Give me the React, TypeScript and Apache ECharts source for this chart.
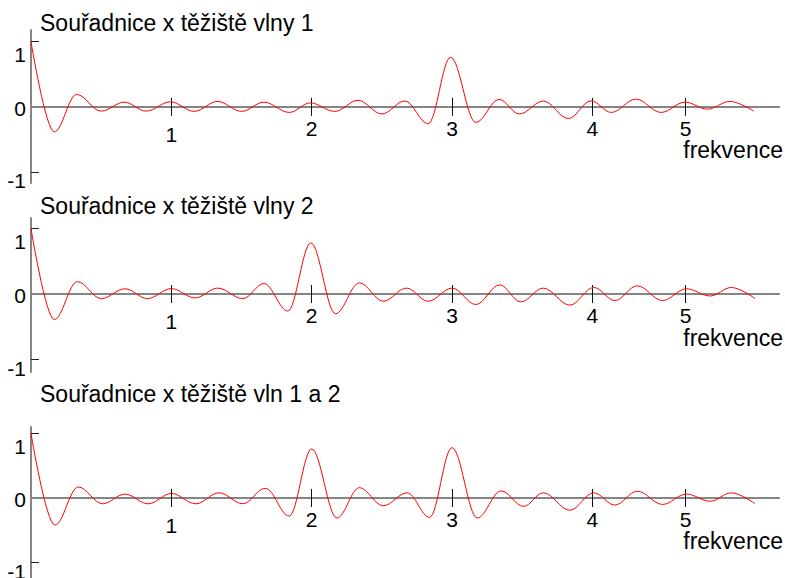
import React, { useEffect, useRef } from 'react';
import * as echarts from 'echarts';

// ---- data ----
const titles = [
  'Souřadnice x těžiště vlny 1',
  'Souřadnice x těžiště vlny 2',
  'Souřadnice x těžiště vln 1 a 2',
];
const xAxisName = 'frekvence';
const xTickValues = [1, 2, 3, 4, 4.665];
const xTickLabels = ['1', '2', '3', '4', '5'];
const yTickValues = [-1, 0, 1];
const yTickLabels = ['-1', '0', '1'];

// local extrema of each curve: [frequency, x-coordinate of centroid]
const wave1: [number, number][] = [
  [0, 1.0], [0.166, -0.385], [0.325, 0.19], [0.5, -0.066], [0.665, 0.072],
  [0.82, -0.066], [0.995, 0.077], [1.163, -0.07], [1.33, 0.083], [1.5, -0.07],
  [1.66, 0.072], [1.84, -0.086], [1.99, 0.06], [2.165, -0.07], [2.33, 0.1],
  [2.5, -0.11], [2.664, 0.09], [2.83, -0.26], [2.99, 0.76], [3.17, -0.24],
  [3.335, 0.114], [3.48, -0.11], [3.65, 0.088], [3.83, -0.18], [3.99, 0.092],
  [4.135, -0.086], [4.31, 0.118], [4.49, -0.086], [4.66, 0.072], [4.82, -0.035],
  [4.98, 0.083], [5.15, -0.066],
];
const wave2: [number, number][] = [
  [0, 1.0], [0.166, -0.39], [0.33, 0.19], [0.5, -0.07], [0.67, 0.08],
  [0.83, -0.07], [1.0, 0.083], [1.17, -0.06], [1.33, 0.09], [1.51, -0.07],
  [1.66, 0.16], [1.83, -0.26], [1.994, 0.78], [2.17, -0.3], [2.34, 0.17],
  [2.51, -0.11], [2.676, 0.09], [2.83, -0.11], [3.0, 0.09], [3.17, -0.16],
  [3.34, 0.14], [3.49, -0.12], [3.65, 0.09], [3.84, -0.17], [4.01, 0.1],
  [4.16, -0.1], [4.32, 0.125], [4.5, -0.1], [4.67, 0.08], [4.84, -0.03],
  [4.99, 0.1], [5.16, -0.07],
];
const wave12: [number, number][] = [
  [0, 1.0], [0.17, -0.42], [0.337, 0.17], [0.51, -0.09], [0.67, 0.06],
  [0.835, -0.09], [1.0, 0.07], [1.175, -0.09], [1.34, 0.08], [1.51, -0.09],
  [1.67, 0.15], [1.84, -0.28], [2.0, 0.76], [2.18, -0.31], [2.34, 0.16],
  [2.51, -0.12], [2.68, 0.08], [2.84, -0.3], [3.0, 0.78], [3.18, -0.31],
  [3.35, 0.11], [3.51, -0.13], [3.65, 0.08], [3.84, -0.19], [4.01, 0.08],
  [4.16, -0.11], [4.32, 0.105], [4.5, -0.1], [4.67, 0.06], [4.84, -0.05],
  [4.99, 0.08], [5.16, -0.09],
];
const waves = [wave1, wave2, wave12];

// ---- layout ----
const FONT = '"Liberation Sans", Arial, Helvetica, sans-serif';
const X_MAX = 5.33;
const panels = [
  { top: 30, height: 153, yMin: -1.17, yMax: 1.18, titleTop: 11 },
  { top: 218, height: 154, yMin: -1.19, yMax: 1.16, titleTop: 194 },
  { top: 427, height: 151, yMin: -1.24, yMax: 1.1, titleTop: 382 },
];

export default function App() {
  const ref = useRef<HTMLDivElement>(null);
  useEffect(() => {
    if (!ref.current) return;
    const chart = echarts.init(ref.current, undefined, { renderer: 'svg' });

    const xLabelFmt = (v: number) => {
      const i = xTickValues.findIndex((t) => Math.abs(t - v) < 1e-6);
      const s = i >= 0 ? xTickLabels[i] : '';
      return i === 0 ? `{lo|${s}}` : `{d|${s}}`;
    };
    const yLabelFmt = (v: number) => {
      const i = yTickValues.findIndex((t) => Math.abs(t - v) < 1e-6);
      const s = i >= 0 ? yTickLabels[i] : '';
      if (v > 0.5) return `{p|${s}}`;
      if (v < -0.5) return `{n|${s}}`;
      return `{z|${s}}`;
    };
    const digit = { fontSize: 21, fontFamily: FONT, color: '#000' };

    const grid: any[] = [];
    const xAxis: any[] = [];
    const yAxis: any[] = [];
    const series: any[] = [];

    panels.forEach((p, g) => {
      // distance (px) from the grid top to the zero line
      const zeroFromTop = (p.height * p.yMax) / (p.yMax - p.yMin);
      grid.push({
        left: 31,
        right: 6,
        top: p.top,
        height: p.height,
        containLabel: false,
        outerBoundsMode: 'none',
      });
      xAxis.push({
        type: 'value',
        gridIndex: g,
        min: 0,
        max: X_MAX,
        position: 'bottom',
        offset: -(p.height - zeroFromTop),
        axisLine: {
          show: true,
          onZero: false,
          lineStyle: { color: '#858585', width: 2 },
        },
        axisTick: {
          show: true,
          customValues: xTickValues,
          length: 9,
          lineStyle: { color: '#111', width: 1 },
        },
        axisLabel: {
          show: true,
          customValues: xTickValues,
          formatter: xLabelFmt,
          margin: 11,
          ...digit,
          rich: {
            d: { ...digit },
            lo: { ...digit, padding: [6, 0, 0, 0] },
          },
        },
        splitLine: { show: false },
        name: xAxisName,
        nameLocation: 'end',
        nameGap: 4,
        nameTextStyle: {
          fontSize: 23,
          fontFamily: FONT,
          color: '#000',
          align: 'right',
          verticalAlign: 'top',
          padding: [32, 0, 0, 0],
        },
      });
      xAxis.push({
        type: 'value',
        gridIndex: g,
        min: 0,
        max: X_MAX,
        position: 'top',
        offset: -zeroFromTop,
        axisLine: { show: false, onZero: false },
        axisTick: {
          show: true,
          customValues: xTickValues,
          length: 9,
          lineStyle: { color: '#111', width: 1 },
        },
        axisLabel: { show: false },
        splitLine: { show: false },
      });
      yAxis.push({
        type: 'value',
        gridIndex: g,
        min: p.yMin,
        max: p.yMax,
        axisLine: {
          show: true,
          onZero: false,
          lineStyle: { color: '#858585', width: 2 },
        },
        axisTick: {
          show: true,
          customValues: yTickValues.filter((v) => v !== 0),
          inside: true,
          length: 8,
          lineStyle: { color: '#222', width: 1 },
        },
        axisLabel: {
          show: true,
          customValues: yTickValues,
          formatter: yLabelFmt,
          margin: 5,
          ...digit,
          rich: {
            p: { ...digit, padding: [26, 0, 0, 0] },
            n: { ...digit, padding: [18, 0, 0, 0] },
            z: { ...digit, padding: [3, 0, 0, 0] },
          },
        },
        splitLine: { show: false },
      });
      series.push({
        type: 'line',
        xAxisIndex: 2 * g,
        yAxisIndex: g,
        data: waves[g],
        smooth: 0.36,
        smoothMonotone: 'x',
        showSymbol: false,
        symbol: 'none',
        silent: true,
        z: 5,
        lineStyle: { color: '#ff0000', width: 1 },
      });
    });

    chart.setOption({
      animation: false,
      backgroundColor: '#ffffff',
      grid,
      xAxis,
      yAxis,
      series,
      graphic: titles.map((t, i) => ({
        type: 'text',
        left: 40,
        top: panels[i].titleTop,
        silent: true,
        style: { text: t, fill: '#000', fontSize: 23, fontFamily: FONT },
      })),
    });
    return () => chart.dispose();
  }, []);

  return (
    <div
      ref={ref}
      style={{ position: 'absolute', left: 0, top: 0, width: 785, height: 578 }}
    />
  );
}
